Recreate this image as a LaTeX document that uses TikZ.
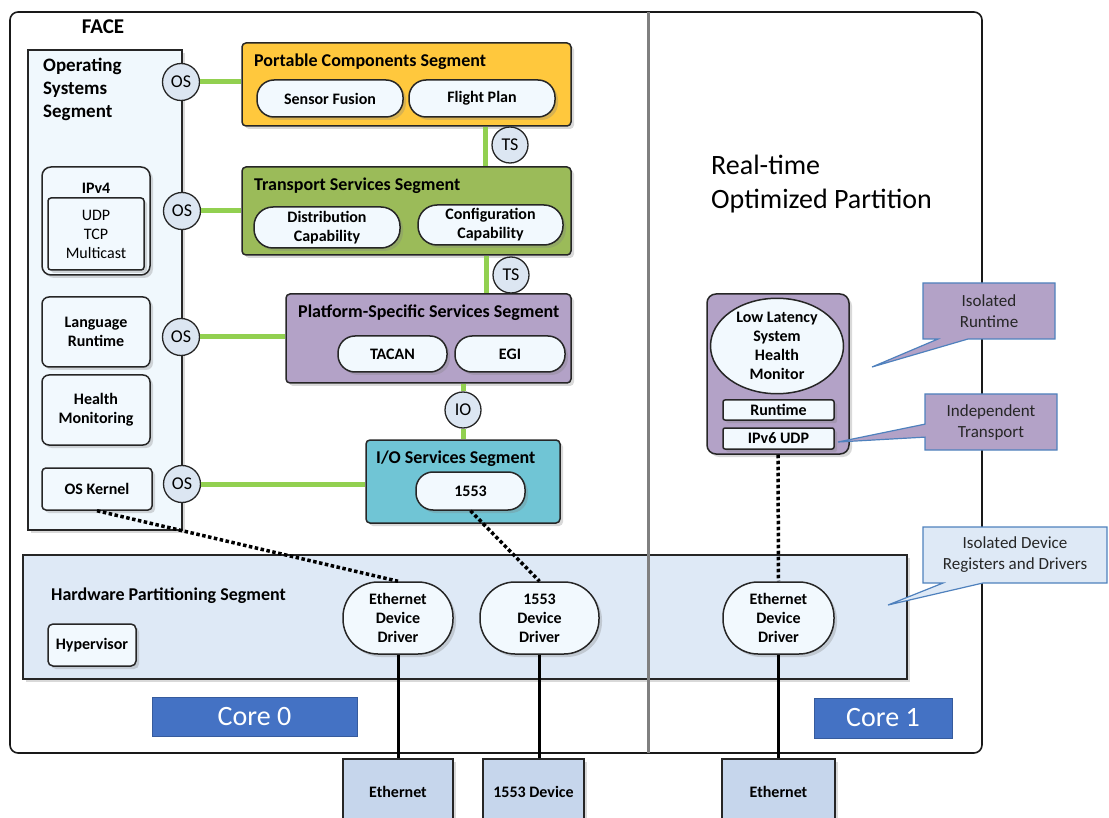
\documentclass[tikz,border=0pt]{standalone}
\usepackage{fontspec}
\setmainfont{Carlito}
\usetikzlibrary{shapes.geometric,shapes.callouts,shadows}

\definecolor{pcsyellow}{RGB}{255,200,61}
\definecolor{tssgreen}{RGB}{155,187,89}
\definecolor{psspurple}{RGB}{179,162,199}
\definecolor{iosteal}{RGB}{112,197,213}
\definecolor{pillfill}{RGB}{242,249,254}
\definecolor{osfill}{RGB}{240,248,253}
\definecolor{circfill}{RGB}{220,230,242}
\definecolor{hwfill}{RGB}{222,233,246}
\definecolor{devfill}{RGB}{198,214,236}
\definecolor{linkgreen}{RGB}{146,208,80}
\definecolor{coreblue}{RGB}{68,114,196}
\definecolor{calloutblue}{RGB}{79,129,189}

\newcommand\fsz[2]{\fontsize{#1}{#2}\selectfont}

\tikzset{
  shade3/.style={drop shadow={shadow xshift=3pt,shadow yshift=-3pt,opacity=.3}},
  segbox/.style={draw=black!85,line width=1.5pt,rounded corners=4pt,inner sep=0pt,shade3},
  segtitle/.style={anchor=west,inner sep=0pt,font=\fsz{18}{21}\bfseries},
  smallbox/.style={draw=black!85,line width=1.5pt,fill=pillfill,rounded corners=7pt,inner sep=0pt,align=center,font=\fsz{16}{19}\bfseries,shade3},
  pill/.style={smallbox,rounded corners=17pt},
  drvbox/.style={smallbox,rounded corners=35pt,minimum height=72pt},
  ifc/.style={circle,draw=black!85,line width=1.3pt,fill=circfill,inner sep=0pt,minimum size=37pt,font=\fsz{18}{21}},
  link/.style={linkgreen,line width=5pt},
  dots/.style={black,line width=3.5pt,dash pattern=on 3.5pt off 2.5pt},
  wire/.style={black,line width=3pt},
  corebox/.style={draw=coreblue!80!black,line width=.8pt,fill=coreblue,text=white,inner sep=0pt,font=\fsz{28}{32}},
  devbox/.style={draw=black!85,line width=1.5pt,fill=devfill,inner sep=0pt,minimum height=66pt,font=\fsz{16}{19}\bfseries,shade3},
  note/.style={rectangle callout,draw=calloutblue,line width=1.2pt,inner sep=0pt,align=center,minimum width=132pt,minimum height=56pt,font=\fsz{17}{21},text=black!85}
}

\begin{document}
\begin{tikzpicture}[x=1pt,y=-1pt]
\useasboundingbox (0,0) rectangle (1109,818);

\draw[black!90,line width=1.6pt,rounded corners=8pt] (10,12) rectangle (982,753);

\node[font=\fsz{21}{24}\bfseries] (face) at (103,27) {FACE};

% operating systems segment
\node[segbox,fill=osfill,rounded corners=0pt,minimum width=154pt,minimum height=480pt] (oss) at (105,290) {};
\node[anchor=north west,align=left,inner sep=0pt,font=\fsz{19}{23}\bfseries] (osstitle) at (43,58) {Operating\\Systems\\Segment};
\node[smallbox,rounded corners=9pt,minimum width=108pt,minimum height=108pt] (ipv4) at (96,221) {};
\node[font=\fsz{16}{19}\bfseries] (ipv4t) at (96,188) {IPv4};
\node[smallbox,rounded corners=3pt,minimum width=96pt,minimum height=72pt,font=\fsz{16}{19}] (proto) at (96,234) {UDP\\TCP\\Multicast};
\node[smallbox,minimum width=108pt,minimum height=70pt] (langrt) at (96,332) {Language\\Runtime};
\node[smallbox,minimum width=108pt,minimum height=70pt] (healthmon) at (96,410) {Health\\Monitoring};
\node[smallbox,rounded corners=4pt,minimum width=110pt,minimum height=42pt] (oskernel) at (97,489) {OS Kernel};

% segments
\node[segbox,fill=pcsyellow,minimum width=329pt,minimum height=83pt] (pcs) at (406.5,84.5) {};
\node[segbox,fill=tssgreen,minimum width=329pt,minimum height=88pt] (tss) at (406.5,211) {};
\node[segbox,fill=psspurple,minimum width=285pt,minimum height=89pt] (psss) at (428.5,338.5) {};
\node[segbox,fill=iosteal,minimum width=194pt,minimum height=83pt] (ioss) at (463,481.5) {};

\node[segtitle] (pcst) at (254,62) {Portable Components Segment};
\node[segtitle] (tsst) at (254,186) {Transport Services Segment};
\node[segtitle] (pssst) at (298,313) {Platform-Specific Services Segment};
\node[segtitle] (ioest) at (376,459) {I/O Services Segment};

\node[pill,minimum width=146pt,minimum height=37pt] (sensfus) at (330,98.5) {Sensor Fusion};
\node[pill,minimum width=146pt,minimum height=37pt] (flightplan) at (482,98.5) {Flight Plan};
\node[pill,rounded corners=19pt,minimum width=146pt,minimum height=41pt] (distcap) at (327,227.5) {Distribution\\Capability};
\node[pill,rounded corners=19pt,minimum width=145pt,minimum height=40pt] (confcap) at (490.5,225) {Configuration\\Capability};
\node[pill,minimum width=109pt,minimum height=36pt] (tacan) at (392.5,354) {TACAN};
\node[pill,minimum width=110pt,minimum height=36pt] (egi) at (510,354) {EGI};
\node[pill,minimum width=109pt,minimum height=38pt] (p1553) at (470.5,491) {1553};

% interfaces
\node[ifc] (os1) at (181,82) {OS};
\node[ifc] (os2) at (182,211) {OS};
\node[ifc] (os3) at (181,337) {OS};
\node[ifc] (os4) at (182,484) {OS};
\node[ifc,minimum size=36pt] (ts1) at (510,145) {TS};
\node[ifc,minimum size=36pt] (ts2) at (511,275) {TS};
\node[ifc,minimum size=36pt] (io) at (463,410) {IO};

% hardware partitioning segment
\node[segbox,fill=hwfill,rounded corners=0pt,minimum width=884pt,minimum height=124pt] (hwseg) at (465,617) {};
\node[segtitle] (hwt) at (51,596) {Hardware Partitioning Segment};
\node[smallbox,rounded corners=5pt,minimum width=88pt,minimum height=42pt] (hyper) at (92,645) {Hypervisor};

\draw[gray,line width=3pt] (648,12) -- (648,753);

\node[drvbox,minimum width=110pt] (ethdrv0) at (398,618) {Ethernet\\Device\\Driver};
\node[drvbox,minimum width=119pt] (drv1553) at (539.5,618) {1553\\Device\\Driver};
\node[drvbox,minimum width=111pt] (ethdrv1) at (778.5,618) {Ethernet\\Device\\Driver};

% real-time partition
\node[anchor=west,align=left,inner sep=0pt,font=\fsz{28}{34}] (rtop) at (711,184) {Real-time\\Optimized Partition};
\node[segbox,fill=psspurple,rounded corners=9pt,minimum width=142pt,minimum height=160pt] (llbox) at (778,374) {};
\node[ellipse,draw=black!85,line width=1.5pt,fill=pillfill,inner sep=0pt,minimum width=133pt,minimum height=92pt,align=center,font=\fsz{16}{19}\bfseries] (llhm) at (777,346) {Low Latency\\System\\Health\\Monitor};
\node[smallbox,rounded corners=2pt,minimum width=111pt,minimum height=20pt] (runtime) at (778.5,410) {Runtime};
\node[smallbox,rounded corners=2pt,minimum width=111pt,minimum height=21pt] (ipv6) at (778.5,438.5) {IPv6 UDP};

% callouts
\node[note,fill=psspurple,callout absolute pointer={(872,367)},callout pointer width=30pt] (isort) at (989,311) {Isolated\\Runtime};
\node[note,fill=psspurple,callout absolute pointer={(838,442)},callout pointer width=13pt] (indtr) at (991,422) {Independent\\Transport};
\node[note,fill=hwfill,minimum width=184pt,callout absolute pointer={(888,605)},callout pointer width=40pt] (isodev) at (1015,555) {Isolated Device\\Registers and Drivers};

% cores
\node[corebox,minimum width=205pt,minimum height=39pt] (core0) at (254.5,716.5) {Core 0};
\node[corebox,minimum width=138pt,minimum height=40pt] (core1) at (883,718) {Core 1};

% devices
\node[devbox,minimum width=110pt] (eth0) at (398,792) {Ethernet};
\node[devbox,minimum width=101pt] (dev1553) at (533.5,792) {1553 Device};
\node[devbox,minimum width=113pt] (eth1) at (778.5,792) {Ethernet};

% connections
\draw[link] (os1.east) -- (os1.east -| pcs.west);
\draw[link] (os2.east) -- (os2.east -| tss.west);
\draw[link] (os3.east) -- (os3.east -| psss.west);
\draw[link] (os4.east) -- (os4.east -| ioss.west);
\draw[link] ([xshift=-6pt]ts1.west |- pcs.south) -- ([xshift=-6pt]ts1.west |- tss.north);
\draw[link] ([xshift=-6pt]ts2.west |- tss.south) -- ([xshift=-6pt]ts2.west |- psss.north);
\draw[link] (io |- psss.south) -- (io.north);
\draw[link] (io.south) -- (io |- ioss.north);

\draw[dots] (oskernel.south) -- (ethdrv0.north);
\draw[dots] (p1553.south) -- (drv1553.north);
\draw[dots] (llbox.south) -- (ethdrv1.north);

\draw[wire] (ethdrv0.south) -- (ethdrv0.south |- eth0.north);
\draw[wire] (drv1553.south) -- (drv1553.south |- dev1553.north);
\draw[wire] (ethdrv1.south) -- (ethdrv1.south |- eth1.north);
\end{tikzpicture}
\end{document}
